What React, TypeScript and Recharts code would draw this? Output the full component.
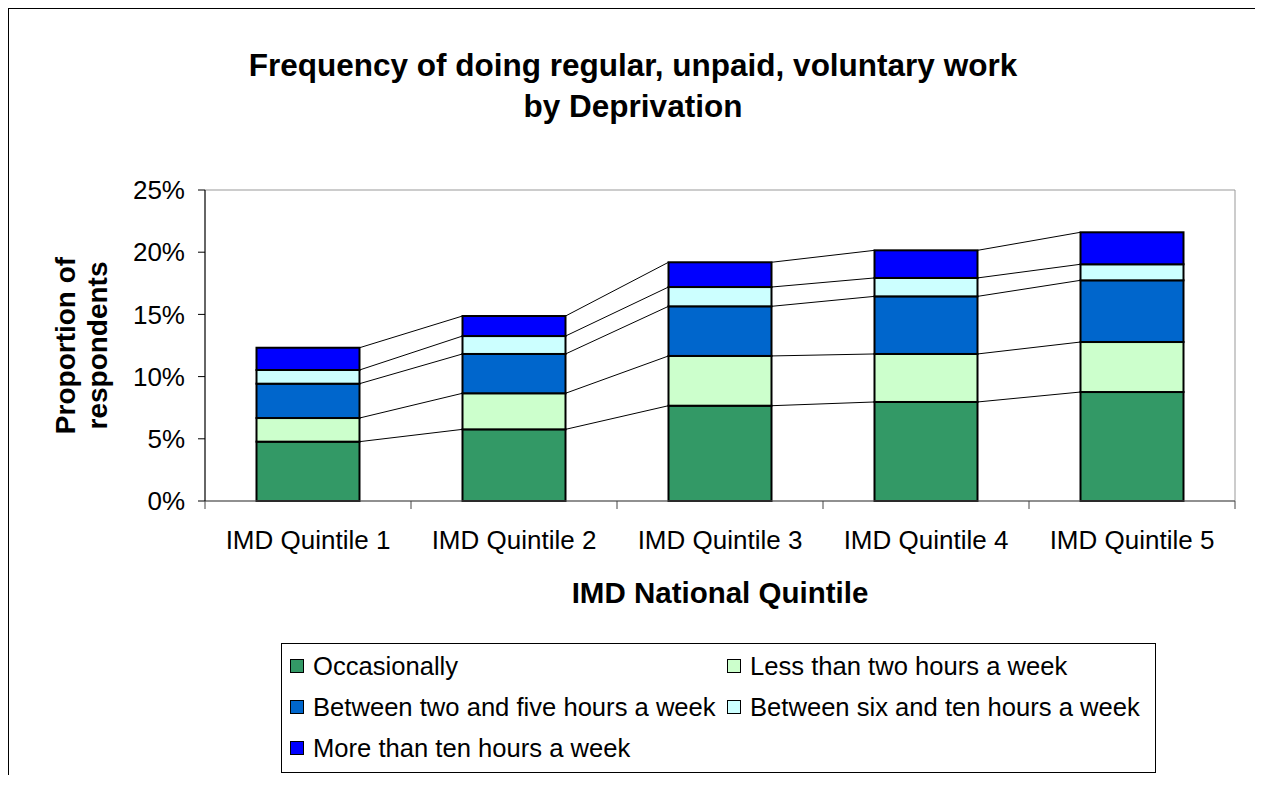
import { BarChart, Bar, XAxis, YAxis, ReferenceArea } from 'recharts'

const categories = ['IMD Quintile 1', 'IMD Quintile 2', 'IMD Quintile 3', 'IMD Quintile 4', 'IMD Quintile 5']
const occasionally = [0.0477, 0.0576, 0.0766, 0.0796, 0.0876]
const lessThanTwo = [0.019, 0.029, 0.04, 0.0386, 0.0402]
const twoToFive = [0.0276, 0.0316, 0.0399, 0.0463, 0.0496]
const sixToTen = [0.011, 0.0144, 0.0155, 0.0148, 0.0129]
const moreThanTen = [0.0179, 0.0161, 0.0199, 0.0222, 0.0257]
const yTicks = [0, 0.05, 0.1, 0.15, 0.2, 0.25]

const SERIES = [
  { key: 'occ', name: 'Occasionally', values: occasionally, color: '#339966' },
  { key: 'lt2', name: 'Less than two hours a week', values: lessThanTwo, color: '#CCFFCC' },
  { key: 'b25', name: 'Between two and five hours a week', values: twoToFive, color: '#0066CC' },
  { key: 'b610', name: 'Between six and ten hours a week', values: sixToTen, color: '#CCFFFF' },
  { key: 'gt10', name: 'More than ten hours a week', values: moreThanTen, color: '#0000FF' },
]

const data = categories.map((name, i) => {
  const row: Record<string, string | number> = { name }
  SERIES.forEach((s) => { row[s.key] = s.values[i] })
  return row
})

const FONT = '"Liberation Sans", Arial, sans-serif'
const CHART_W = 1240
const CHART_H = 620
const MARGIN = { top: 181, right: 14, left: 6, bottom: 18 }
const Y_AXIS_W = 190
const PLOT_W = CHART_W - MARGIN.left - MARGIN.right - Y_AXIS_W
const BAND = PLOT_W / categories.length

// cumulative top of series si at category i
const cumAt = (i: number, si: number) =>
  SERIES.slice(0, si + 1).reduce((acc, s) => acc + s.values[i], 0)

// stacked segment with Excel-style series line to the next bar
const makeShape = (si: number) => (props: any) => {
  const { x, y, width, height, fill, index } = props
  const val = SERIES[si].values[index]
  const k = val ? height / val : 0
  const hasNext = index < categories.length - 1
  const yNext = hasNext ? y + (cumAt(index, si) - cumAt(index + 1, si)) * k : 0
  const xNext = x + BAND
  return (
    <g>
      <rect x={x} y={y} width={width} height={height} fill={fill} stroke="#000" strokeWidth={2} />
      {hasNext && (
        <line x1={x + width} y1={y} x2={xNext} y2={yNext} stroke="#000" strokeWidth={1} />
      )}
    </g>
  )
}

const XTick = (props: any) => {
  const { x, y, payload, index } = props
  const axisY = y - 30
  return (
    <g>
      <line x1={x - BAND / 2} y1={axisY} x2={x - BAND / 2} y2={axisY + 8} stroke="#444" />
      {index === categories.length - 1 && (
        <line x1={x + BAND / 2} y1={axisY} x2={x + BAND / 2} y2={axisY + 8} stroke="#444" />
      )}
      <text x={x} y={y + 9} textAnchor="middle" dominantBaseline="central" fontSize={26} fill="#000" fontFamily={FONT}>
        {payload.value}
      </text>
    </g>
  )
}

const YTitle = (props: any) => {
  const vb = props.viewBox
  const cy = vb.y + vb.height / 2
  return (
    <g fontFamily={FONT} fontWeight="bold" fontSize={28} fill="#000">
      <text x={56} y={cy} textAnchor="middle" dominantBaseline="central" transform={`rotate(-90 56 ${cy})`}>
        Proportion of
      </text>
      <text x={88} y={cy} textAnchor="middle" dominantBaseline="central" transform={`rotate(-90 88 ${cy})`}>
        respondents
      </text>
    </g>
  )
}

const XTitle = (props: any) => {
  const vb = props.viewBox
  return (
    <text x={vb.x + vb.width / 2} y={583} textAnchor="middle" dominantBaseline="central"
      fontFamily={FONT} fontWeight="bold" fontSize={29.5} fill="#000">
      IMD National Quintile
    </text>
  )
}

export default function App() {
  return (
    <div style={{
      position: 'relative', width: 1248, height: 766, border: '1px solid #000', borderBottom: 'none',
      fontFamily: FONT, background: '#fff',
    }}>
      <div style={{
        position: 'absolute', top: 36, left: 0, width: '100%', textAlign: 'center',
        fontWeight: 'bold', fontSize: 31.5, lineHeight: '41px', color: '#000',
      }}>
        Frequency of doing regular, unpaid, voluntary work<br />by Deprivation
      </div>
      <div style={{ position: 'absolute', top: 0, left: 0 }}>
        <BarChart width={CHART_W} height={CHART_H} data={data} margin={MARGIN} barCategoryGap="25%">
          <ReferenceArea y1={0} y2={0.25} fill="none" stroke="#999" strokeWidth={1} />
          <XAxis
            dataKey="name"
            height={110}
            tickLine={false}
            tickSize={6}
            tickMargin={24}
            axisLine={{ stroke: '#555' }}
            tick={<XTick />}
            interval={0}
            label={<XTitle />}
          />
          <YAxis
            width={Y_AXIS_W}
            domain={[0, 0.25]}
            ticks={yTicks}
            tickFormatter={(v: number) => `${Math.round(v * 100)}%`}
            tick={{ fill: '#000', fontSize: 26, fontFamily: FONT }}
            tickSize={7}
            tickMargin={13}
            tickLine={{ stroke: '#000' }}
            axisLine={{ stroke: '#000' }}
            label={<YTitle />}
          />
          {SERIES.map((s, si) => (
            <Bar key={s.key} dataKey={s.key} name={s.name} stackId="a" fill={s.color}
              shape={makeShape(si)} isAnimationActive={false} />
          ))}
        </BarChart>
      </div>
      <div style={{
        position: 'absolute', left: 272, top: 634, width: 873, height: 128, border: '1px solid #000',
        background: '#fff',
      }}>
        {SERIES.map((s, si) => (
          <div key={s.key} style={{
            position: 'absolute', left: si % 2 === 0 ? 8 : 445, top: 22 + Math.floor(si / 2) * 41 - 16,
            height: 32, display: 'flex', alignItems: 'center', fontSize: 25.6, color: '#000', whiteSpace: 'nowrap',
          }}>
            <span style={{
              display: 'inline-block', width: 12, height: 12, background: s.color, border: '1px solid #000',
              marginRight: 9,
            }} />
            {s.name}
          </div>
        ))}
      </div>
    </div>
  )
}
